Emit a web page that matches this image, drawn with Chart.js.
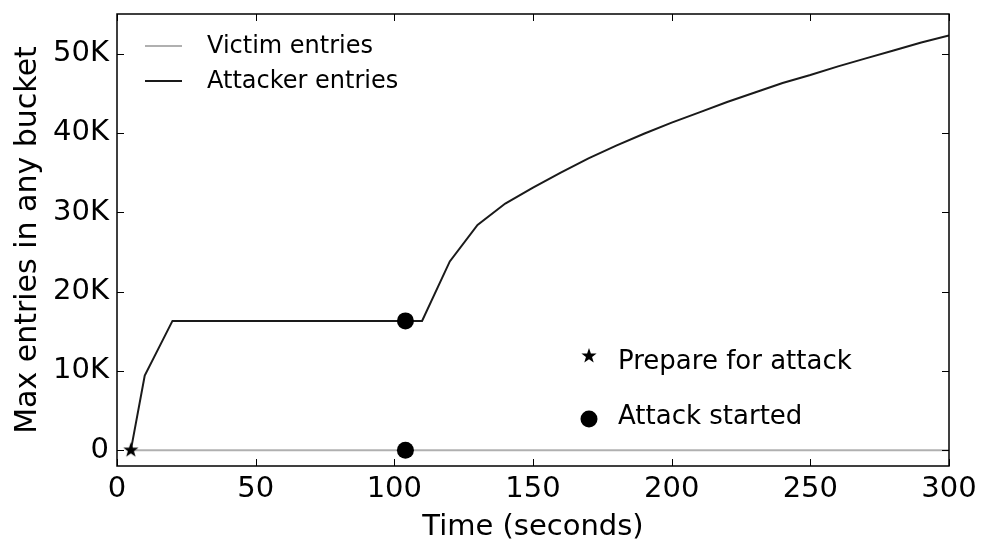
<!DOCTYPE html>
<html>
<head>
<meta charset="utf-8">
<script src="https://cdn.jsdelivr.net/npm/chart.js@4.4.1/dist/chart.umd.min.js"></script>
<style>
  html, body { margin: 0; padding: 0; background: #fff; }
  #wrap { width: 984px; height: 540px; }
</style>
</head>
<body>
<div id="wrap"><canvas id="chart" width="984" height="540"></canvas></div>
<script>
// data
const attackerTime = [5, 10, 20, 110, 120, 130, 140, 150, 160, 170, 180, 190, 200, 210, 220, 230, 240, 250, 260, 270, 280, 290, 300];
const attackerEntries = [0, 9400, 16300, 16300, 23800, 28400, 31100, 33100, 35000, 36800, 38400, 39900, 41300, 42600, 43900, 45100, 46300, 47300, 48400, 49400, 50400, 51400, 52300];
const victimTime = [5, 300];
const victimEntries = [0, 0];
const prepareTime = [5];
const prepareEntries = [0];
const attackTime = [104, 104];
const attackEntries = [16300, 0];

const xTicks = [0, 50, 100, 150, 200, 250, 300];
const yTicks = [0, 10000, 20000, 30000, 40000, 50000];
const yTickLabels = ['0', '10K', '20K', '30K', '40K', '50K'];

const FONT = 'DejaVu Sans';

function toPoints(xs, ys) {
    return xs.map((x, i) => ({ x, y: ys[i] }));
}

function drawStar(ctx, cx, cy, r) {
    ctx.beginPath();
    for (let i = 0; i < 10; i++) {
        const rad = i % 2 === 0 ? r : r * 0.4;
        const a = -Math.PI / 2 + i * Math.PI / 5;
        const px = cx + rad * Math.cos(a);
        const py = cy + rad * Math.sin(a);
        if (i === 0) ctx.moveTo(px, py); else ctx.lineTo(px, py);
    }
    ctx.closePath();
    ctx.fill();
}

function makeStar(r) {
    const c = document.createElement('canvas');
    c.width = c.height = Math.ceil(2 * r + 2);
    const cx = c.getContext('2d');
    cx.fillStyle = '#000';
    drawStar(cx, c.width / 2, c.height / 2, r);
    return c;
}

// inward ticks, frame and the two legends
const frameTicks = {
    id: 'frameTicks',
    afterDatasetsDraw(chart) {
        const { ctx, chartArea: a, scales: { x, y } } = chart;
        ctx.save();
        ctx.strokeStyle = '#000';
        ctx.lineWidth = 1;
        const line = (x1, y1, x2, y2) => { ctx.beginPath(); ctx.moveTo(x1, y1); ctx.lineTo(x2, y2); ctx.stroke(); };
        xTicks.forEach(v => {
            const px = Math.round(x.getPixelForValue(v)) + 0.5;
            line(px, a.bottom, px, a.bottom - 7);
            line(px, a.top, px, a.top + 7);
        });
        yTicks.forEach(v => {
            const py = Math.round(y.getPixelForValue(v)) + 0.5;
            line(a.left, py, a.left + 7, py);
            line(a.right, py, a.right - 7, py);
        });
        ctx.lineWidth = 1.5;
        ctx.strokeRect(a.left, a.top, a.width, a.height);

        // upper legend
        ctx.font = '24px "' + FONT + '"';
        ctx.textBaseline = 'middle';
        ctx.fillStyle = '#000';
        ctx.lineWidth = 2;
        ctx.strokeStyle = '#b0b0b0';
        line(a.left + 28, a.top + 32, a.left + 65, a.top + 32);
        ctx.fillText('Victim entries', a.left + 90, a.top + 33);
        ctx.strokeStyle = '#1a1a1a';
        line(a.left + 28, a.top + 67, a.left + 65, a.top + 67);
        ctx.fillText('Attacker entries', a.left + 90, a.top + 68);

        // lower legend
        ctx.font = '26px "' + FONT + '"';
        drawStar(ctx, 589, 356, 8);
        ctx.fillText('Prepare for attack', 618, 362);
        ctx.beginPath();
        ctx.arc(589, 419, 8.5, 0, Math.PI * 2);
        ctx.fill();
        ctx.fillText('Attack started', 618, 417);
        ctx.restore();
    }
};

const ctx = document.getElementById('chart').getContext('2d');
new Chart(ctx, {
    type: 'scatter',
    data: {
        datasets: [
            {
                label: 'Prepare for attack',
                data: toPoints(prepareTime, prepareEntries),
                pointStyle: makeStar(8),
                pointRadius: 8,
                order: 0
            },
            {
                label: 'Attack started',
                data: toPoints(attackTime, attackEntries),
                pointStyle: 'circle',
                pointRadius: 8.5,
                backgroundColor: '#000',
                borderColor: '#000',
                borderWidth: 0,
                order: 1
            },
            {
                label: 'Attacker entries',
                data: toPoints(attackerTime, attackerEntries),
                showLine: true,
                borderColor: '#1a1a1a',
                borderWidth: 2,
                pointRadius: 0,
                tension: 0,
                order: 2
            },
            {
                label: 'Victim entries',
                data: toPoints(victimTime, victimEntries),
                showLine: true,
                borderColor: '#b0b0b0',
                borderWidth: 2,
                pointRadius: 0,
                order: 3
            }
        ]
    },
    options: {
        responsive: false,
        animation: false,
        layout: { padding: { top: 14, right: 35, left: 0, bottom: 0 } },
        plugins: {
            legend: { display: false },
            tooltip: { enabled: false }
        },
        scales: {
            x: {
                type: 'linear',
                min: 0,
                max: 300,
                afterBuildTicks: s => { s.ticks = xTicks.map(v => ({ value: v })); },
                afterFit: s => { s.height = 74; s.paddingLeft = 0; s.paddingRight = 0; },
                grid: { display: false, drawTicks: false },
                border: { display: false },
                ticks: {
                    color: '#000',
                    padding: 6,
                    maxRotation: 0,
                    font: { family: FONT, size: 29 }
                },
                title: {
                    display: true,
                    text: 'Time (seconds)',
                    color: '#000',
                    padding: { top: 0, bottom: -5 },
                    font: { family: FONT, size: 29 }
                }
            },
            y: {
                type: 'linear',
                min: -2000,
                max: 55000,
                afterBuildTicks: s => { s.ticks = yTicks.map(v => ({ value: v })); },
                afterFit: s => { s.width = 117; s.paddingTop = 0; s.paddingBottom = 0; },
                grid: { display: false, drawTicks: false },
                border: { display: false },
                ticks: {
                    color: '#000',
                    padding: 8,
                    font: { family: FONT, size: 29 },
                    callback: (v, i) => yTickLabels[i]
                },
                title: {
                    display: true,
                    text: 'Max entries in any bucket',
                    color: '#000',
                    padding: 10,
                    font: { family: FONT, size: 30 }
                }
            }
        }
    },
    plugins: [frameTicks]
});
</script>
</body>
</html>
